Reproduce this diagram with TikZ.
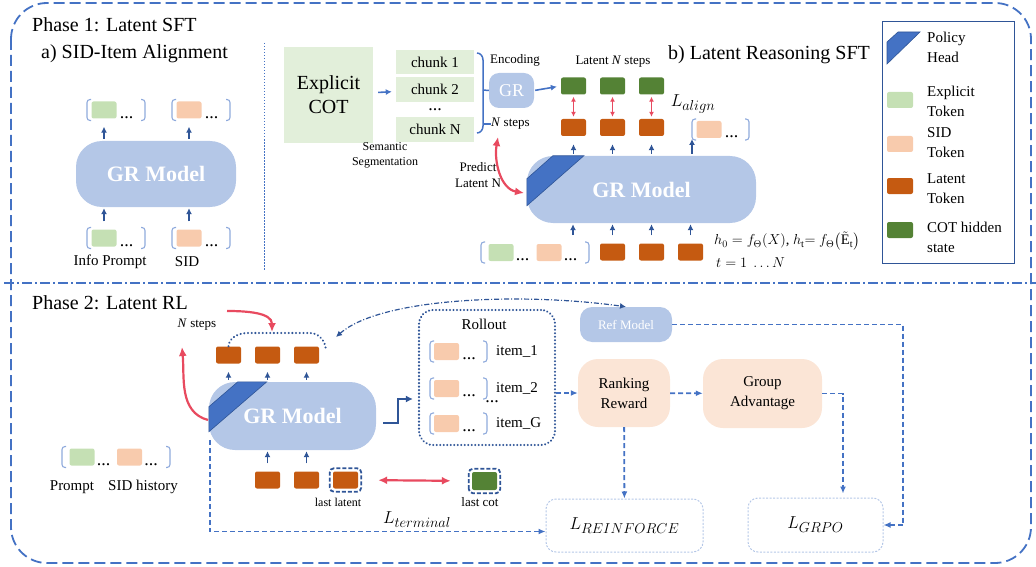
\documentclass[tikz,border=0pt]{standalone}
\usepackage{amsmath}
\usepackage{fontspec}
\setmainfont{Liberation Serif}
\usetikzlibrary{arrows.meta,positioning,calc}

\definecolor{bdblue}{HTML}{4472C4}
\definecolor{dkblue}{HTML}{2F5597}
\definecolor{grfill}{HTML}{B4C7E7}
\definecolor{brkblue}{HTML}{8FAADC}
\definecolor{cotbg}{HTML}{E2EFDA}
\definecolor{tkgreen}{HTML}{C5E0B4}
\definecolor{tkpeach}{HTML}{F8CBAD}
\definecolor{tklat}{HTML}{C55A11}
\definecolor{tkcot}{HTML}{548235}
\definecolor{rwfill}{HTML}{FBE5D6}
\definecolor{redarr}{HTML}{E84A5F}

\newcommand\fsz[2]{\fontsize{#1}{#2}\selectfont}
% bracket pair round a row of tokens: left x, right x, centre y
\newcommand\tokgrp[3]{%
  \draw[brk] (#1+4,#3-10.5) -- (#1,#3-10.5) -- (#1,#3+10.5) -- (#1+4,#3+10.5);
  \draw[brk] (#2-4,#3-10.5) -- (#2,#3-10.5) -- (#2,#3+10.5) -- (#2-4,#3+10.5);}

\tikzset{
  tok/.style={rounded corners=2pt, minimum width=25pt, minimum height=17pt, inner sep=0pt},
  tg/.style={tok, fill=tkgreen},
  ts/.style={tok, fill=tkpeach},
  tl/.style={tok, fill=tklat},
  tc/.style={tok, fill=tkcot},
  gr/.style={rounded corners=26pt, fill=grfill, text=white, inner sep=0pt, font=\bfseries\fsz{22}{26}},
  phead/.style={fill=bdblue, draw=dkblue, line width=0.6pt},
  upT/.style={-{Latex[length=6pt,width=6pt]}, dkblue, line width=1.6pt, shorten <=2pt, shorten >=8pt},
  upB/.style={-{Latex[length=6pt,width=6pt]}, dkblue, line width=1.6pt, shorten <=8pt, shorten >=1pt},
  brk/.style={brkblue, line width=1.1pt, rounded corners=3pt},
  bl/.style={bdblue, line width=1.6pt, -{Latex[length=6pt,width=6pt]}, shorten <=5pt, shorten >=4pt},
  braceln/.style={bdblue, line width=1.5pt},
  dsh/.style={bdblue, line width=1.8pt, dash pattern=on 5pt off 3pt, -{Latex[length=7pt,width=6pt]}},
  ddt/.style={dkblue, line width=1.2pt, dash pattern=on 5pt off 2pt on 1pt off 2pt,
    {Latex[length=6pt,width=6pt]}-{Latex[length=6pt,width=6pt]}},
  rd/.style={redarr, line width=2.2pt, -{Latex[length=9pt,width=8pt]}},
  rdd/.style={redarr, line width=2.2pt, {Latex[length=9pt,width=8pt]}-{Latex[length=9pt,width=8pt]}},
  rsm/.style={redarr, line width=1.3pt, {Latex[length=5pt,width=5pt]}-{Latex[length=5pt,width=5pt]}, shorten <=2pt, shorten >=2pt},
  stp/.style={dkblue, line width=2.4pt, -{Latex[length=7pt,width=7pt]}},
  dotl/.style={dkblue, line width=2.2pt, dash pattern=on 0.1pt off 3.6pt, line cap=round},
  lastbox/.style={dkblue, line width=1.8pt, dash pattern=on 4pt off 2pt, rounded corners=4pt},
  dots/.style={font=\fsz{18}{20}, inner sep=0pt},
  head/.style={font=\fsz{20}{24}, inner sep=0pt},
  lbl/.style={font=\fsz{15}{20}, inner sep=0pt},
  sml/.style={font=\fsz{13}{16}, inner sep=0pt},
  chk/.style={fill=cotbg, minimum width=78pt, inner sep=0pt, font=\fsz{15}{18}},
  soft/.style={fill=rwfill, rounded corners=20pt, align=center, inner sep=0pt, font=\fsz{15}{20}},
  lossbox/.style={draw=grfill, dash pattern=on 2pt off 1.5pt, line width=1pt, rounded corners=10pt, font=\fsz{19}{20}},
}

\begin{document}
\begin{tikzpicture}[x=1pt,y=-1pt]
\useasboundingbox (0,0) rectangle (1036,567);
% frame
\draw[bdblue, line width=1.8pt, dash pattern=on 11pt off 5pt, rounded corners=36pt] (11,3) rectangle (1031,563);
\draw[bdblue, line width=2.2pt, dash pattern=on 10pt off 3pt on 2pt off 3pt] (4,283) -- (1036,283);
\draw[bdblue, line width=0.9pt, dash pattern=on 1.5pt off 1.5pt] (264,43) -- (264,270);

\node[head, anchor=west] (ph1) at (32,25) {Phase 1: Latent SFT};
\node[head, anchor=west] (ta) at (41,54) {a) SID-Item Alignment};
\node[head, anchor=west] (tb) at (668,55) {b) Latent Reasoning SFT};

% a) SID-Item Alignment
\node[gr, minimum width=160pt, minimum height=66pt] (grA) at (156,174) {GR Model};
\node[tg] (a1) at (104,110) {};
\node[ts] (a2) at (189,110) {};
\node[tg] (b1) at (104,238) {};
\node[ts] (b2) at (189,238) {};
\foreach \t in {a1,a2,b1,b2}
  \node[dots, anchor=south west] (d\t) at ([xshift=3pt]\t.south east) {...};
\tokgrp{87}{145}{110} \tokgrp{172}{230}{110}
\tokgrp{87}{145}{238} \tokgrp{172}{230}{238}
\foreach \t in {a1,a2} \draw[upT] (grA.north -| \t) -- (\t.south);
\foreach \t in {b1,b2} \draw[upB] (\t.north) -- (grA.south -| \t);
\node[lbl] (lb1) at (110,262) {Info Prompt};
\node[lbl] (lb2) at (187,262) {SID};

% b) Latent Reasoning SFT
\node[fill=cotbg, minimum width=89pt, minimum height=96pt, align=center, font=\fsz{20}{24}] (ecot) at (328.5,95) {Explicit\\COT};
\node[chk, minimum height=24pt] (ch1) at (435,62) {chunk 1};
\node[chk, minimum height=25pt] (ch2) at (435,89.5) {chunk 2};
\node[dots] (chd) at (435,110) {...};
\node[chk, minimum height=25pt] (chN) at (435,129.5) {chunk N};
\draw[bl] (ecot) -- (ch2);
\node[sml, align=center, font=\fsz{12}{15}] (seg) at (385,155) {Semantic\\Segmentation};
\draw[braceln] (477,53) to[out=0,in=90] (483,60) -- (483,126) to[out=-90,in=0] (477,133);
\coordinate (brm) at (483,90);
\coordinate (brn) at (483,124);
\node[gr, rounded corners=10pt, minimum width=45pt, minimum height=35pt, font=\fsz{18}{20}] (grs) at (511.5,90.5) {GR};
\draw[braceln] (brm) -- (grs.west);
\node[sml] (enc) at (515,60) {Encoding};
\node[sml, anchor=west] (nst) at (491,124) {\textit{N} steps};
\draw[braceln] (brn) -- (nst.west);
\node[sml] (lns) at (613,62) {Latent \textit{N} steps};
\foreach \i/\x in {1/573.5,2/612.5,3/651.5}{
  \node[tc] (c\i) at (\x,86) {};
  \node[tl] (l\i) at (\x,127.5) {};
  \draw[rsm] (c\i.south) -- (l\i.north);
}
\draw[bl, shorten <=1pt] (grs.east) -- (c1.west);
\node[font=\fsz{19}{20}] (lal) at (693,104) {$L_{align}$};
\node[ts] (s1) at (709,129.5) {};
\node[dots, anchor=south west] (ds1) at ([xshift=3pt]s1.south east) {...};
\tokgrp{692}{749}{129.5}
\coordinate (gs) at (692,139);

\node[gr, minimum width=229pt, minimum height=67pt] (grB) at (641.5,189.5) {GR Model};
\filldraw[phead] ([xshift=26pt]grB.north west) -- ([xshift=57pt]grB.north west)
  -- ([yshift=-50pt]grB.north west) -- ([yshift=-23pt]grB.north west) -- cycle;
\foreach \t in {l1,l2,l3} \draw[upT] (grB.north -| \t) -- (\t.south);
\draw[upT, shorten >=0pt] (grB.north -| gs) -- (gs);

\node[sml, align=center] (pln) at (478,175) {Predict\\Latent N};
\coordinate (nsb) at (498,137);
\coordinate (phb) at (524,193);
\draw[rdd] (nsb) to[out=-100,in=170] (phb);

\tokgrp{481}{589}{252.5}
\node[tg] (bg) at (501,252.5) {};
\node[ts] (bs) at (549,252.5) {};
\foreach \t in {bg,bs}
  \node[dots, anchor=south west] (d\t) at ([xshift=2pt]\t.south east) {...};
\coordinate (bgr) at (573,243);
\foreach \i/\x in {1/612.5,2/651.5,3/690.5}
  \node[tl] (k\i) at (\x,252) {};
\foreach \t in {k1,k2,k3} \draw[upB] (\t.north) -- (grB.south -| \t);
\draw[upB] (bgr) -- (grB.south -| bgr);
\node[anchor=west, inner sep=0pt, font=\fsz{14.5}{18}] (eq1) at (714,241)
  {$h_0=f_\Theta(X)$, $h_{\mathrm t}{=}\ f_\Theta\big(\tilde{\mathrm E}_{\mathrm t}\big)$};
\node[anchor=west, inner sep=0pt, font=\fsz{14.5}{18}] (eq2) at (716,263) {$t=1\ \ldots N$};

% legend
\node[draw=dkblue, line width=1pt, minimum width=132pt, minimum height=241pt] (leg) at (948,142.5) {};
\filldraw[phead] (887,42) -- (898,32) -- (920,32) -- (887,64) -- cycle;
\node[tg, minimum width=26pt, minimum height=16pt] (lg1) at (900,100) {};
\node[ts, minimum width=26pt, minimum height=16pt] (lg2) at (900,144) {};
\node[tl, minimum width=26pt, minimum height=16pt] (lg3) at (900,186) {};
\node[tc, minimum width=26pt, minimum height=16pt] (lg4) at (900,230) {};
\node[lbl, anchor=west, align=left] (lt0) at (927,47) {Policy\\Head};
\node[lbl, anchor=west, align=left] (lt1) at (927,101) {Explicit\\Token};
\node[lbl, anchor=west, align=left] (lt2) at (927,143) {SID\\Token};
\node[lbl, anchor=west, align=left] (lt3) at (927,189) {Latent\\Token};
\node[lbl, anchor=west, align=left] (lt4) at (927,237) {COT hidden\\state};

% Phase 2
\node[head, anchor=west] (ph2) at (32,303) {Phase 2: Latent RL};
\node[sml] (nst2) at (197,325) {\textit{N} steps};
\node[gr, minimum width=167pt, minimum height=68pt] (grC) at (292.5,416) {GR Model};
\filldraw[phead] ([xshift=29pt]grC.north west) -- ([xshift=58pt]grC.north west)
  -- ([yshift=-50pt]grC.north west) -- ([yshift=-25pt]grC.north west) -- cycle;
\foreach \i/\x in {1/228.5,2/267.5,3/306.5}{
  \node[tl] (u\i) at (\x,355) {};
  \draw[upT] (grC.north -| u\i) -- (u\i.south);
}
\draw[dotl] (u1.north) to[out=85,in=180] (248,333) -- (310,333) to[out=0,in=95] (326,350);
\coordinate (rt0) at (227,311);
\coordinate (arcT) at (272,332);
\draw[rd] (rt0) to[out=0,in=90] (arcT);
\coordinate (phc) at (208,420);
\coordinate (rl1) at (182,347);
\draw[rd] (phc) to[out=165,in=-85] (rl1);

\foreach \i/\x in {1/267.5,2/306.5,3/345.5}
  \node[tl] (w\i) at (\x,480) {};
\foreach \t in {w1,w2} \draw[upB] (\t.north) -- (grC.south -| \t);
\draw[lastbox] ([shift={(-3pt,-3pt)}]w3.south west) rectangle ([shift={(3pt,3pt)}]w3.north east);
\node[font=\fsz{12}{14}, inner sep=0pt] (llt) at (338,502) {last latent};
\node[tc, minimum height=18pt] (lc) at (484.5,481) {};
\draw[lastbox] ([shift={(-3pt,-3pt)}]lc.south west) rectangle ([shift={(3pt,3pt)}]lc.north east);
\node[sml] (lct) at (480,502) {last cot};
\draw[rdd, shorten <=20pt, shorten >=21pt] (w3.east) -- (lc.west);
\node[font=\fsz{19}{20}] (lterm) at (417,520) {$L_{terminal}$};

\tokgrp{62}{170}{457}
\node[tg] (pg) at (82,457) {};
\node[ts] (ps) at (129.5,457) {};
\foreach \t in {pg,ps}
  \node[dots, anchor=south west] (d\t) at ([xshift=2pt]\t.south east) {...};
\node[lbl] (lp) at (72,487) {Prompt};
\node[lbl] (lsh) at (143,487) {SID history};

% rollout
\node[draw=dkblue, line width=2.2pt, dash pattern=on 0.1pt off 3.4pt, line cap=round, rounded corners=14pt,
  minimum width=136pt, minimum height=135pt] (roll) at (487,377.5) {};
\draw[stp] ([xshift=7pt,yshift=-7pt]grC.east) -- ++(15,0) |- ([xshift=-5pt,yshift=-21.5pt]roll.west);
\node[lbl] (rlt) at (484,324) {Rollout};
\foreach \i/\y/\l in {1/351.5/item\_1,2/388.5/item\_2,3/423.5/item\_G}{
  \tokgrp{430}{487}{\y}
  \node[ts] (r\i) at (446.5,\y) {};
  \node[dots, anchor=south west] (dr\i) at ([xshift=3pt]r\i.south east) {...};
  \node[lbl, anchor=west] (it\i) at (496,\y) {\l};
}
\node[dots] (rdots) at (492,402) {...};

\node[soft, minimum width=92pt, minimum height=68pt] (rank) at (624,393) {Ranking\\Reward};
\node[soft, minimum width=119pt, minimum height=69pt] (adv) at (762.5,393.5) {Group\\Advantage};
\node[gr, rounded corners=12pt, minimum width=92pt, minimum height=35pt, font=\fsz{13}{15}] (ref) at (626,324.5) {Ref Model};
\node[lossbox, minimum width=157pt, minimum height=53pt] (reinf) at (624.5,525.5) {$L_{REINFORCE}$};
\node[lossbox, minimum width=135pt, minimum height=54pt] (grpo) at (815.5,525) {$L_{GRPO}$};

\draw[dsh] (roll.east |- rank) -- (rank.west);
\draw[dsh] (rank) -- (adv);
\draw[dsh] (rank) -- (reinf);
\draw[dsh, shorten >=4pt] (adv.east) -| ([xshift=27.5pt]grpo.north);
\draw[dsh] (ref.east) -- ++(231,0) |- (grpo.east);
\draw[dsh] ([xshift=1pt,yshift=-24pt]grC.west) |- ([yshift=-6pt]reinf.west);
\coordinate (arcR) at (336,337);
\draw[ddt] (arcR) .. controls (380,298) and (520,292) .. (ref.north);
\end{tikzpicture}
\end{document}
